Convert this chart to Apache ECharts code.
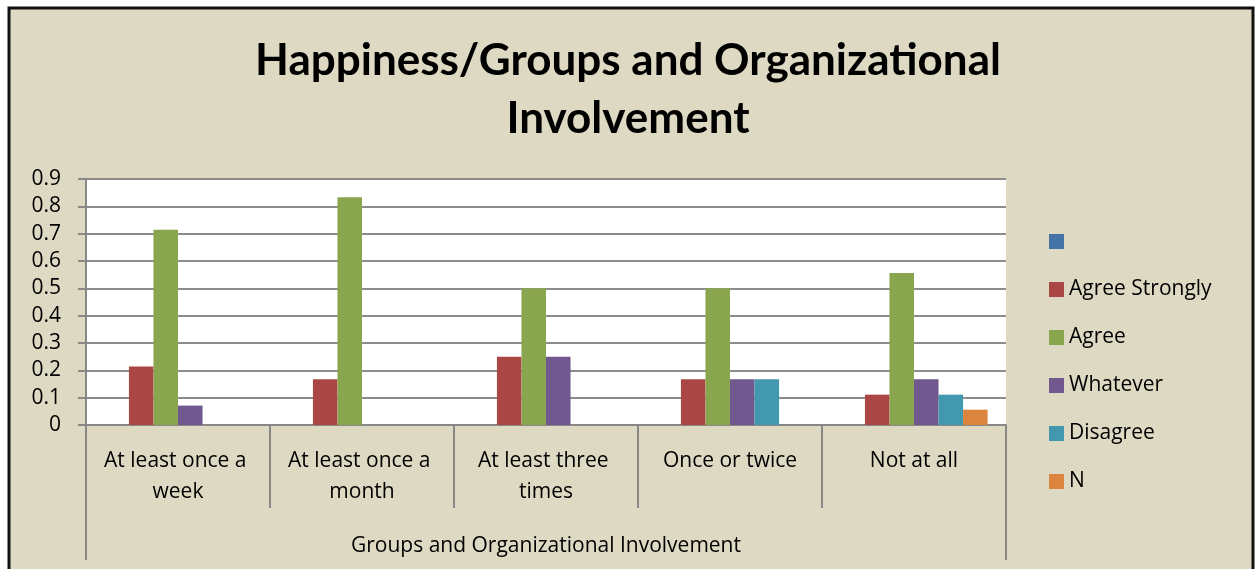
<!DOCTYPE html>
<html>
<head>
<meta charset="utf-8">
<script src="https://cdn.jsdelivr.net/npm/echarts@6/dist/echarts.min.js"></script>
<style>
  html, body { margin: 0; padding: 0; background: #fff; }
  #chart { width: 1256px; height: 569px; }
</style>
</head>
<body>
<div id="chart"></div>
<script>
const categories = ['At least once a week', 'At least once a month', 'At least three times', 'Once or twice', 'Not at all'];
const seriesNames = [' ', 'Agree Strongly', 'Agree', 'Whatever', 'Disagree', 'N'];
const blankValues = [0, 0, 0, 0, 0];
const agreeStrongly = [0.214, 0.167, 0.25, 0.167, 0.111];
const agree = [0.714, 0.833, 0.5, 0.5, 0.556];
const whatever = [0.071, 0, 0.25, 0.167, 0.167];
const disagree = [0, 0, 0, 0.167, 0.111];
const nValues = [0, 0, 0, 0, 0.056];
const colors = ['#4572a7', '#aa4643', '#89a54e', '#71588f', '#4198af', '#db843d'];

const allValues = [blankValues, agreeStrongly, agree, whatever, disagree, nValues];
const titleFont = 'Lato, sans-serif';
const font = '"Open Sans", sans-serif';

const chart = echarts.init(document.getElementById('chart'));

const series = seriesNames.map((name, i) => ({
  name: name,
  type: 'bar',
  data: allValues[i],
  itemStyle: { color: colors[i] },
  barGap: '0%',
  barCategoryGap: '20%'
}));

const option = {
  backgroundColor: '#fff',
  animation: false,
  textStyle: { fontFamily: font },
  graphic: [{
    type: 'rect',
    z: -10,
    silent: true,
    shape: { x: 9, y: 8, width: 1244, height: 600 },
    style: { fill: '#ddd9c3', stroke: '#111', lineWidth: 3 }
  }],
  title: {
    text: 'Happiness/Groups and Organizational\nInvolvement',
    left: 'center',
    top: 27,
    textStyle: {
      fontFamily: titleFont,
      fontSize: 44,
      fontWeight: 'bold',
      color: '#000',
      lineHeight: 58
    }
  },
  legend: {
    orient: 'vertical',
    left: 1049,
    top: 231,
    padding: 0,
    icon: 'rect',
    itemWidth: 15,
    itemHeight: 15,
    itemGap: 27,
    data: seriesNames,
    textStyle: { fontFamily: font, fontSize: 21, color: '#000', lineHeight: 21 }
  },
  grid: {
    left: 86,
    right: 250,
    top: 179,
    bottom: 144,
    show: true,
    backgroundColor: '#fff',
    borderWidth: 0
  },
  xAxis: [{
    type: 'category',
    data: categories,
    axisLine: { lineStyle: { color: '#888', width: 2 } },
    axisTick: { show: true, interval: 0, length: 83, lineStyle: { color: '#888', width: 2 } },
    axisLabel: {
      interval: 0,
      margin: 21,
      width: 174,
      overflow: 'break',
      fontFamily: font,
      fontSize: 21,
      lineHeight: 31,
      color: '#000'
    }
  }, {
    type: 'category',
    position: 'bottom',
    data: ['Groups and Organizational Involvement'],
    axisLine: { show: false },
    axisTick: { show: true, length: 135, lineStyle: { color: '#888', width: 2 } },
    axisLabel: { margin: 111, fontFamily: font, fontSize: 21, color: '#000' }
  }],
  yAxis: {
    type: 'value',
    min: 0,
    max: 0.9,
    interval: 0.1,
    axisLine: { show: true, lineStyle: { color: '#888', width: 2 } },
    axisTick: { show: true, length: 8, lineStyle: { color: '#888', width: 2 } },
    splitLine: { lineStyle: { color: '#8c8c8c', width: 2 } },
    axisLabel: { margin: 25, fontFamily: font, fontSize: 21, color: '#000' }
  },
  series: series
};

chart.setOption(option);
</script>
</body>
</html>
